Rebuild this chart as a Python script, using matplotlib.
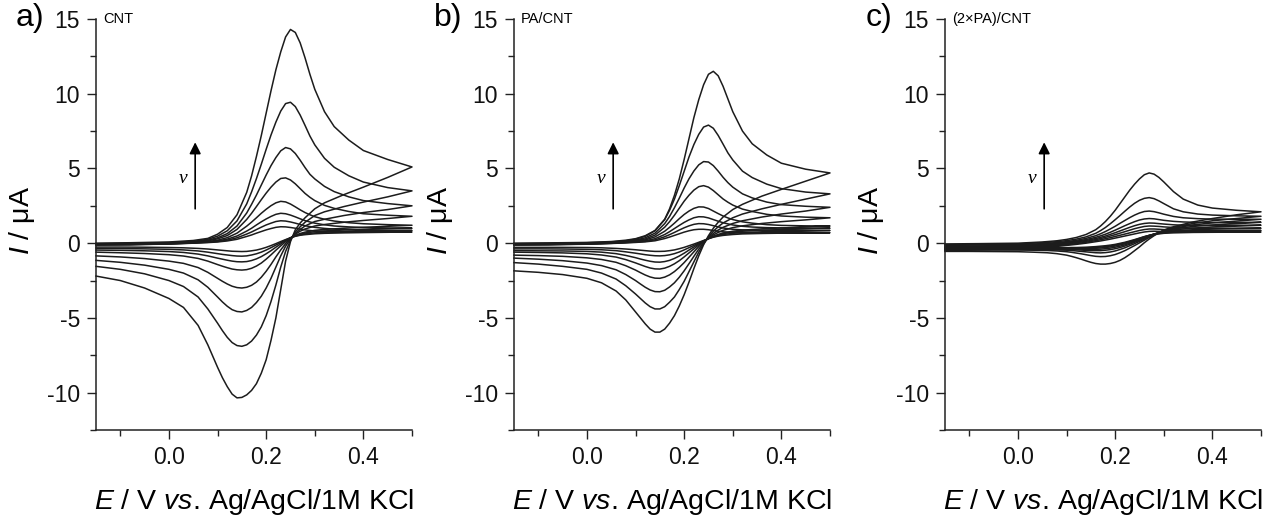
import matplotlib
matplotlib.use("Agg")
import matplotlib.pyplot as plt
from matplotlib.ticker import MultipleLocator, FixedLocator

plt.rcParams['font.family'] = ['Liberation Sans', 'DejaVu Sans']
plt.rcParams['axes.unicode_minus'] = False
plt.rcParams['mathtext.fontset'] = 'custom'
plt.rcParams['mathtext.rm'] = 'Liberation Sans'
plt.rcParams['mathtext.it'] = 'Liberation Sans:italic'

# ---------------- potential grids (V) ----------------
E_fwd = [-0.15, -0.08, 0.00, 0.05, 0.08, 0.10, 0.12, 0.14, 0.16, 0.17, 0.18, 0.19,
         0.20, 0.21, 0.22, 0.23, 0.24, 0.25, 0.26, 0.27, 0.28, 0.29, 0.30, 0.32,
         0.34, 0.37, 0.40, 0.45, 0.50]
E_rev = [0.50, 0.45, 0.40, 0.36, 0.32, 0.30, 0.28, 0.27, 0.26, 0.25, 0.24, 0.23,
         0.22, 0.21, 0.20, 0.19, 0.18, 0.17, 0.16, 0.15, 0.14, 0.13, 0.12, 0.11,
         0.10, 0.08, 0.06, 0.03, 0.00, -0.05, -0.10, -0.15]

# ---------------- a) CNT (current, uA) ----------------
cnt_fwd = [
    [0.0, 0.03, 0.08, 0.18, 0.32, 0.6, 1.05, 1.9, 3.4, 4.5, 5.8, 7.2, 8.7, 10.2, 11.6, 12.8, 13.8, 14.3, 14.1, 13.4, 12.4, 11.3, 10.3, 8.8, 7.8, 6.9, 6.2, 5.6, 5.1],
    [-0.03, -0.01, 0.04, 0.12, 0.26, 0.47, 0.83, 1.49, 2.63, 3.43, 4.32, 5.28, 6.28, 7.24, 8.1, 8.84, 9.34, 9.43, 9.14, 8.57, 7.88, 7.17, 6.58, 5.68, 5.08, 4.51, 4.09, 3.72, 3.5],
    [-0.06, -0.04, 0.01, 0.08, 0.2, 0.36, 0.64, 1.15, 2.02, 2.6, 3.22, 3.89, 4.56, 5.19, 5.73, 6.18, 6.4, 6.31, 6.0, 5.55, 5.06, 4.61, 4.3, 3.8, 3.45, 3.1, 2.85, 2.65, 2.5],
    [-0.08, -0.06, -0.01, 0.06, 0.16, 0.29, 0.51, 0.92, 1.59, 2.0, 2.45, 2.91, 3.35, 3.75, 4.09, 4.33, 4.37, 4.23, 3.97, 3.65, 3.33, 3.07, 2.85, 2.53, 2.33, 2.12, 1.97, 1.87, 1.8],
    [-0.1, -0.08, -0.03, 0.03, 0.11, 0.2, 0.37, 0.67, 1.14, 1.41, 1.7, 2.0, 2.27, 2.51, 2.7, 2.8, 2.76, 2.62, 2.43, 2.23, 2.05, 1.9, 1.77, 1.6, 1.48, 1.37, 1.3, 1.24, 1.2],
    [-0.1, -0.09, -0.04, 0.02, 0.08, 0.15, 0.27, 0.48, 0.81, 1.0, 1.22, 1.43, 1.62, 1.79, 1.93, 2.0, 1.97, 1.88, 1.76, 1.63, 1.51, 1.42, 1.34, 1.23, 1.15, 1.09, 1.05, 1.02, 1.0],
    [-0.11, -0.1, -0.05, 0.01, 0.06, 0.11, 0.2, 0.36, 0.61, 0.75, 0.91, 1.07, 1.22, 1.34, 1.45, 1.5, 1.48, 1.42, 1.34, 1.25, 1.17, 1.11, 1.06, 0.99, 0.94, 0.9, 0.88, 0.86, 0.85],
    [-0.12, -0.1, -0.06, 0.0, 0.04, 0.08, 0.15, 0.26, 0.45, 0.55, 0.67, 0.78, 0.89, 0.98, 1.06, 1.1, 1.09, 1.05, 1.0, 0.94, 0.89, 0.85, 0.82, 0.79, 0.77, 0.76, 0.755, 0.75, 0.75],
]
cnt_rev = [
    [5.1, 4.4, 3.75, 3.25, 2.7, 2.3, 1.7, 1.35, 0.9, 0.1, -1.2, -3.1, -5.0, -6.5, -7.8, -8.7, -9.4, -9.85, -10.15, -10.32, -10.35, -10.1, -9.6, -9.0, -8.3, -6.8, -5.5, -4.3, -3.7, -3.0, -2.5, -2.2],
    [3.5, 3.1, 2.75, 2.45, 2.1, 1.85, 1.4, 1.1, 0.75, 0.2, -0.55, -1.6, -2.8, -3.9, -4.85, -5.6, -6.15, -6.55, -6.8, -6.9, -6.85, -6.65, -6.3, -5.85, -5.35, -4.4, -3.6, -2.9, -2.5, -2.05, -1.75, -1.55],
    [2.5, 2.25, 2.05, 1.85, 1.6, 1.45, 1.15, 0.92, 0.65, 0.28, -0.2, -0.85, -1.6, -2.35, -3.0, -3.55, -3.97, -4.3, -4.5, -4.6, -4.57, -4.45, -4.22, -3.93, -3.6, -2.95, -2.45, -2.0, -1.75, -1.47, -1.28, -1.15],
    [1.8, 1.65, 1.52, 1.4, 1.25, 1.15, 0.95, 0.8, 0.6, 0.33, -0.03, -0.45, -0.92, -1.42, -1.88, -2.28, -2.6, -2.82, -2.95, -3.0, -2.97, -2.88, -2.73, -2.55, -2.35, -1.95, -1.63, -1.35, -1.2, -1.03, -0.92, -0.85],
    [1.2, 1.13, 1.06, 1.0, 0.92, 0.86, 0.74, 0.65, 0.52, 0.35, 0.1, -0.18, -0.47, -0.78, -1.07, -1.33, -1.53, -1.68, -1.77, -1.8, -1.78, -1.73, -1.64, -1.54, -1.43, -1.2, -1.02, -0.86, -0.77, -0.69, -0.64, -0.6],
    [1.0, 0.96, 0.92, 0.88, 0.82, 0.77, 0.68, 0.6, 0.5, 0.36, 0.17, -0.05, -0.27, -0.5, -0.71, -0.9, -1.05, -1.16, -1.23, -1.25, -1.24, -1.2, -1.14, -1.07, -1.0, -0.85, -0.73, -0.62, -0.56, -0.51, -0.48, -0.46],
    [0.85, 0.82, 0.8, 0.77, 0.73, 0.69, 0.62, 0.56, 0.48, 0.36, 0.21, 0.04, -0.13, -0.3, -0.46, -0.6, -0.71, -0.79, -0.85, -0.87, -0.86, -0.83, -0.79, -0.75, -0.7, -0.6, -0.52, -0.45, -0.41, -0.38, -0.36, -0.35],
    [0.75, 0.73, 0.71, 0.69, 0.66, 0.63, 0.57, 0.53, 0.46, 0.36, 0.24, 0.11, -0.03, -0.16, -0.28, -0.38, -0.46, -0.51, -0.55, -0.56, -0.55, -0.54, -0.51, -0.48, -0.45, -0.39, -0.35, -0.31, -0.29, -0.27, -0.26, -0.26],
]

# ---------------- b) PA/CNT ----------------
pa_fwd = [
    [0.0, 0.02, 0.05, 0.11, 0.2, 0.3, 0.5, 0.85, 1.6, 2.3, 3.2, 4.3, 5.6, 7.0, 8.4, 9.6, 10.6, 11.3, 11.5, 11.2, 10.5, 9.65, 8.8, 7.5, 6.65, 5.9, 5.35, 4.95, 4.7],
    [-0.03, -0.01, 0.03, 0.08, 0.16, 0.27, 0.46, 0.83, 1.58, 2.2, 2.95, 3.85, 4.81, 5.77, 6.6, 7.28, 7.77, 7.9, 7.69, 7.21, 6.63, 6.04, 5.57, 4.82, 4.39, 3.95, 3.65, 3.42, 3.3],
    [-0.06, -0.04, 0.0, 0.05, 0.12, 0.21, 0.36, 0.67, 1.31, 1.79, 2.37, 3.01, 3.69, 4.31, 4.83, 5.24, 5.46, 5.43, 5.19, 4.82, 4.41, 4.05, 3.75, 3.3, 3.03, 2.75, 2.58, 2.47, 2.4],
    [-0.08, -0.06, -0.02, 0.03, 0.09, 0.17, 0.28, 0.54, 1.07, 1.44, 1.87, 2.34, 2.81, 3.21, 3.55, 3.78, 3.85, 3.75, 3.52, 3.24, 2.96, 2.74, 2.55, 2.28, 2.12, 1.93, 1.82, 1.74, 1.7],
    [-0.1, -0.08, -0.04, 0.01, 0.06, 0.12, 0.22, 0.42, 0.8, 1.06, 1.34, 1.64, 1.92, 2.15, 2.33, 2.43, 2.42, 2.32, 2.15, 1.98, 1.82, 1.69, 1.58, 1.43, 1.34, 1.24, 1.19, 1.16, 1.15],
    [-0.1, -0.09, -0.05, 0.0, 0.05, 0.09, 0.16, 0.3, 0.58, 0.77, 0.98, 1.19, 1.39, 1.56, 1.7, 1.77, 1.76, 1.69, 1.58, 1.47, 1.37, 1.29, 1.22, 1.13, 1.08, 1.04, 1.02, 1.01, 1.0],
    [-0.11, -0.1, -0.06, -0.01, 0.04, 0.07, 0.12, 0.22, 0.43, 0.57, 0.72, 0.88, 1.03, 1.16, 1.26, 1.31, 1.3, 1.25, 1.17, 1.09, 1.02, 0.97, 0.93, 0.89, 0.87, 0.86, 0.855, 0.85, 0.85],
    [-0.12, -0.1, -0.07, -0.02, 0.02, 0.05, 0.09, 0.16, 0.31, 0.41, 0.52, 0.63, 0.74, 0.83, 0.9, 0.93, 0.93, 0.9, 0.85, 0.8, 0.76, 0.74, 0.72, 0.71, 0.705, 0.7, 0.7, 0.7, 0.7],
]
pa_rev = [
    [4.7, 4.15, 3.6, 3.15, 2.6, 2.25, 1.75, 1.4, 1.0, 0.5, -0.1, -0.85, -1.7, -2.6, -3.45, -4.2, -4.85, -5.35, -5.75, -5.95, -5.95, -5.75, -5.4, -5.0, -4.6, -3.8, -3.2, -2.65, -2.35, -2.1, -1.95, -1.85],
    [3.3, 2.95, 2.6, 2.3, 1.95, 1.7, 1.35, 1.1, 0.8, 0.42, -0.05, -0.6, -1.25, -1.9, -2.55, -3.1, -3.6, -3.95, -4.25, -4.4, -4.4, -4.25, -4.0, -3.7, -3.4, -2.85, -2.4, -2.0, -1.75, -1.55, -1.4, -1.3],
    [2.4, 2.15, 1.95, 1.75, 1.5, 1.32, 1.06, 0.88, 0.65, 0.37, 0.02, -0.4, -0.88, -1.37, -1.85, -2.28, -2.65, -2.93, -3.15, -3.25, -3.24, -3.13, -2.95, -2.73, -2.5, -2.1, -1.78, -1.5, -1.33, -1.17, -1.07, -1.0],
    [1.7, 1.56, 1.44, 1.32, 1.16, 1.04, 0.86, 0.72, 0.55, 0.34, 0.08, -0.23, -0.58, -0.94, -1.3, -1.62, -1.9, -2.12, -2.27, -2.35, -2.34, -2.26, -2.13, -1.97, -1.8, -1.51, -1.28, -1.09, -0.98, -0.88, -0.83, -0.8],
    [1.15, 1.08, 1.02, 0.96, 0.87, 0.8, 0.68, 0.58, 0.46, 0.31, 0.11, -0.12, -0.38, -0.65, -0.92, -1.17, -1.38, -1.55, -1.67, -1.73, -1.72, -1.66, -1.56, -1.44, -1.32, -1.1, -0.93, -0.79, -0.71, -0.65, -0.62, -0.6],
    [1.0, 0.95, 0.91, 0.87, 0.8, 0.74, 0.64, 0.56, 0.45, 0.31, 0.14, -0.05, -0.25, -0.46, -0.67, -0.86, -1.02, -1.15, -1.23, -1.27, -1.26, -1.21, -1.14, -1.06, -0.97, -0.82, -0.7, -0.6, -0.55, -0.52, -0.51, -0.5],
    [0.85, 0.82, 0.79, 0.76, 0.71, 0.66, 0.58, 0.51, 0.42, 0.3, 0.16, 0.01, -0.15, -0.3, -0.45, -0.59, -0.7, -0.78, -0.83, -0.85, -0.84, -0.81, -0.77, -0.72, -0.67, -0.58, -0.5, -0.44, -0.41, -0.39, -0.38, -0.38],
    [0.7, 0.69, 0.67, 0.65, 0.62, 0.58, 0.52, 0.47, 0.4, 0.3, 0.18, 0.06, -0.06, -0.17, -0.28, -0.37, -0.45, -0.5, -0.54, -0.55, -0.55, -0.53, -0.5, -0.47, -0.44, -0.39, -0.35, -0.31, -0.29, -0.28, -0.28, -0.28],
]

# ---------------- c) (2xPA)/CNT ----------------
pa2_fwd = [
    [-0.05, -0.03, 0.0, 0.08, 0.16, 0.25, 0.38, 0.58, 0.9, 1.15, 1.45, 1.8, 2.2, 2.65, 3.1, 3.55, 3.95, 4.3, 4.58, 4.7, 4.62, 4.4, 4.1, 3.45, 2.95, 2.55, 2.35, 2.2, 2.1],
    [-0.1, -0.08, -0.05, 0.03, 0.1, 0.17, 0.27, 0.42, 0.66, 0.84, 1.05, 1.3, 1.57, 1.85, 2.14, 2.42, 2.67, 2.87, 3.0, 3.05, 2.98, 2.83, 2.65, 2.3, 2.1, 1.95, 1.88, 1.83, 1.8],
    [-0.15, -0.12, -0.1, -0.03, 0.04, 0.1, 0.19, 0.32, 0.5, 0.63, 0.78, 0.95, 1.13, 1.33, 1.52, 1.71, 1.88, 2.02, 2.12, 2.15, 2.11, 2.03, 1.94, 1.79, 1.7, 1.64, 1.61, 1.6, 1.6],
    [-0.2, -0.18, -0.15, -0.08, -0.01, 0.05, 0.13, 0.24, 0.39, 0.49, 0.6, 0.73, 0.87, 1.02, 1.17, 1.31, 1.44, 1.55, 1.62, 1.65, 1.63, 1.58, 1.53, 1.46, 1.42, 1.39, 1.38, 1.39, 1.4],
    [-0.25, -0.22, -0.2, -0.13, -0.06, 0.0, 0.08, 0.18, 0.31, 0.39, 0.48, 0.59, 0.7, 0.82, 0.94, 1.06, 1.17, 1.26, 1.32, 1.35, 1.34, 1.31, 1.28, 1.23, 1.2, 1.19, 1.19, 1.2, 1.2],
    [-0.3, -0.27, -0.25, -0.18, -0.11, -0.05, 0.03, 0.12, 0.24, 0.31, 0.39, 0.48, 0.57, 0.67, 0.77, 0.87, 0.97, 1.05, 1.12, 1.15, 1.14, 1.12, 1.09, 1.05, 1.02, 1.0, 1.0, 1.0, 1.0],
    [-0.35, -0.32, -0.3, -0.23, -0.16, -0.1, -0.03, 0.06, 0.17, 0.23, 0.3, 0.37, 0.45, 0.53, 0.61, 0.69, 0.77, 0.85, 0.91, 0.95, 0.95, 0.93, 0.91, 0.88, 0.86, 0.85, 0.85, 0.85, 0.85],
    [-0.4, -0.37, -0.35, -0.28, -0.21, -0.15, -0.08, 0.0, 0.1, 0.15, 0.21, 0.27, 0.34, 0.41, 0.48, 0.55, 0.62, 0.69, 0.75, 0.79, 0.8, 0.79, 0.78, 0.76, 0.75, 0.74, 0.74, 0.75, 0.75],
]
pa2_rev = [
    [2.1, 1.9, 1.65, 1.42, 1.1, 0.88, 0.5, 0.28, 0.03, -0.25, -0.5, -0.75, -0.97, -1.15, -1.28, -1.36, -1.4, -1.4, -1.36, -1.28, -1.18, -1.07, -0.97, -0.88, -0.8, -0.7, -0.64, -0.6, -0.57, -0.56, -0.55, -0.55],
    [1.8, 1.65, 1.5, 1.32, 1.05, 0.86, 0.55, 0.38, 0.2, 0.02, -0.16, -0.33, -0.5, -0.64, -0.76, -0.84, -0.89, -0.9, -0.88, -0.83, -0.77, -0.71, -0.66, -0.61, -0.57, -0.52, -0.49, -0.47, -0.46, -0.46, -0.47, -0.49],
    [1.6, 1.48, 1.36, 1.22, 1.0, 0.84, 0.58, 0.43, 0.27, 0.12, -0.03, -0.17, -0.31, -0.42, -0.52, -0.59, -0.63, -0.65, -0.64, -0.61, -0.58, -0.55, -0.52, -0.49, -0.47, -0.45, -0.43, -0.42, -0.42, -0.42, -0.43, -0.45],
    [1.4, 1.31, 1.22, 1.12, 0.95, 0.82, 0.6, 0.47, 0.33, 0.19, 0.06, -0.07, -0.19, -0.29, -0.37, -0.43, -0.47, -0.5, -0.5, -0.49, -0.48, -0.46, -0.44, -0.43, -0.42, -0.41, -0.4, -0.39, -0.39, -0.39, -0.4, -0.42],
    [1.2, 1.14, 1.08, 1.01, 0.89, 0.79, 0.61, 0.5, 0.38, 0.25, 0.12, 0.0, -0.11, -0.2, -0.27, -0.33, -0.37, -0.4, -0.41, -0.42, -0.41, -0.4, -0.39, -0.39, -0.38, -0.37, -0.37, -0.36, -0.36, -0.36, -0.37, -0.38],
    [1.0, 0.97, 0.94, 0.9, 0.82, 0.75, 0.61, 0.52, 0.41, 0.29, 0.17, 0.06, -0.04, -0.12, -0.19, -0.25, -0.29, -0.32, -0.34, -0.35, -0.36, -0.36, -0.36, -0.35, -0.35, -0.35, -0.34, -0.34, -0.34, -0.34, -0.34, -0.35],
    [0.85, 0.84, 0.82, 0.8, 0.75, 0.7, 0.6, 0.52, 0.43, 0.32, 0.21, 0.11, 0.02, -0.06, -0.13, -0.19, -0.23, -0.26, -0.28, -0.3, -0.31, -0.31, -0.32, -0.32, -0.32, -0.32, -0.32, -0.32, -0.32, -0.32, -0.32, -0.33],
    [0.75, 0.74, 0.73, 0.72, 0.69, 0.66, 0.58, 0.52, 0.44, 0.34, 0.24, 0.15, 0.06, -0.01, -0.08, -0.13, -0.17, -0.2, -0.23, -0.25, -0.27, -0.28, -0.29, -0.29, -0.3, -0.3, -0.3, -0.3, -0.3, -0.3, -0.3, -0.3],
]

panel_letters = ["a)", "b)", "c)"]
panel_titles = ["CNT", "PA/CNT", "(2\u00d7PA)/CNT"]
panel_fwd = [cnt_fwd, pa_fwd, pa2_fwd]
panel_rev = [cnt_rev, pa_rev, pa2_rev]

x_major = [0.0, 0.2, 0.4]
x_minor = [-0.1, 0.1, 0.3, 0.5]
y_major = [-10, -5, 0, 5, 10, 15]

# ---------------- figure ----------------
W, H = 1275, 518
fig = plt.figure(figsize=(W / 100, H / 100), dpi=100)
lefts_px = [96, 514, 945]
ax_w_px = 316
ax_top_px, ax_bot_px = 19, 430

for i in range(3):
    l = lefts_px[i]
    ax = fig.add_axes([l / W, 1 - ax_bot_px / H, ax_w_px / W, (ax_bot_px - ax_top_px) / H])
    for f, r in zip(panel_fwd[i], panel_rev[i]):
        ax.plot(E_fwd + E_rev, f + r, color='#1c1c1c', lw=1.1,
                solid_joinstyle='round', clip_on=False)
    ax.set_xlim(-0.15, 0.5)
    ax.set_ylim(-12.5, 15)
    for s in ['top', 'right']:
        ax.spines[s].set_visible(False)
    for s in ['left', 'bottom']:
        ax.spines[s].set_linewidth(1.1)
        ax.spines[s].set_color('#222222')
    ax.xaxis.set_major_locator(FixedLocator(x_major))
    ax.xaxis.set_minor_locator(FixedLocator(x_minor))
    ax.set_xticklabels(["%.1f" % v for v in x_major])
    ax.yaxis.set_major_locator(FixedLocator(y_major))
    ax.yaxis.set_minor_locator(MultipleLocator(2.5))
    ax.set_yticklabels(["%d" % v for v in y_major])
    ax.tick_params(which='major', direction='out', length=6.5, width=1.0,
                   labelsize=16.5, colors='#222222', labelcolor='#111111')
    ax.tick_params(axis='x', which='major', pad=5)
    ax.tick_params(axis='y', which='major', pad=5)
    ax.tick_params(which='minor', direction='out', length=4, width=1.0, colors='#222222')

    # scan-rate arrow and nu
    ax.annotate('', xy=(0.054, 6.75), xytext=(0.054, 2.3),
                arrowprops=dict(arrowstyle='-|>', color='black', lw=1.2,
                                mutation_scale=17, shrinkA=0, shrinkB=0))
    ax.text(0.029, 4.35, '\u03bd', family=['Liberation Serif'], style='italic',
            fontsize=14, ha='center', va='center')

    # panel letter and title
    fig.text((l - 66) / W, 1 - 18 / H, panel_letters[i], fontsize=23,
             ha='center', va='center')
    fig.text((l + 7) / W, 1 - 19 / H, panel_titles[i], fontsize=10.5,
             ha='left', va='center')

    # axis labels
    fig.text((l + ax_w_px / 2) / W, 1 - 509 / H,
             r'$E$ / V $vs$. Ag/AgCl/1M KCl', fontsize=20.5,
             ha='center', va='baseline')
    fig.text((l - 74) / W, 1 - 220 / H, '$I$ / \u03bcA', fontsize=20.5,
             ha='center', va='center', rotation=90)

fig.savefig('out.png', dpi=100)
